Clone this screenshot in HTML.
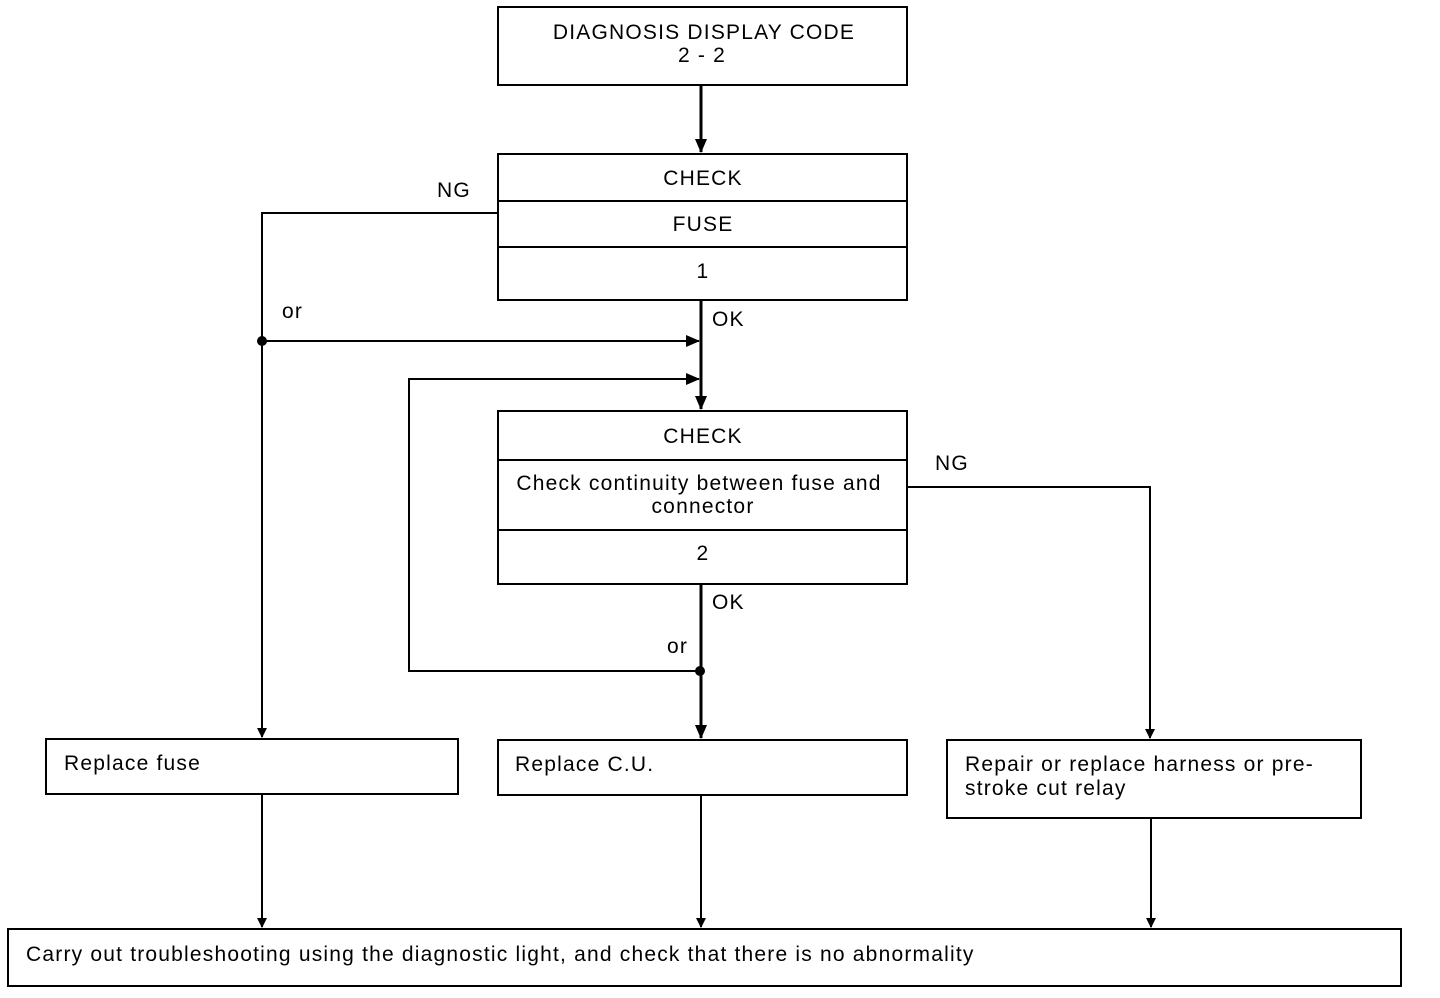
<!DOCTYPE html>
<html><head><style>body{margin:0;background:#fff}svg{display:block}</style></head><body>
<svg width="1440" height="998" xmlns="http://www.w3.org/2000/svg" font-family="Liberation Sans, Arial, sans-serif" font-size="21" letter-spacing="1.2" fill="#000">
<defs><marker id="a" markerWidth="10" markerHeight="10" refX="9" refY="5" orient="auto" markerUnits="userSpaceOnUse"><path d="M0,0 L10,5 L0,10 z"/></marker>
<marker id="b" markerWidth="14" markerHeight="14" refX="13" refY="7" orient="auto" markerUnits="userSpaceOnUse"><path d="M0,1 L14,7 L0,13 z"/></marker></defs>
<g fill="none" stroke="#000" stroke-width="2">
<rect x="498" y="7" width="409" height="78"/>
<rect x="498" y="154" width="409" height="146"/>
<line x1="498" y1="201" x2="907" y2="201"/><line x1="498" y1="247" x2="907" y2="247"/>
<rect x="498" y="411" width="409" height="173"/>
<line x1="498" y1="460" x2="907" y2="460"/><line x1="498" y1="530" x2="907" y2="530"/>
<rect x="46" y="739" width="412" height="55"/>
<rect x="498" y="740" width="409" height="55"/>
<rect x="947" y="740" width="414" height="78"/>
<rect x="8" y="929" width="1393" height="57"/>
<line x1="701" y1="85" x2="701" y2="152" stroke-width="3" marker-end="url(#b)"/>
<line x1="701" y1="300" x2="701" y2="409" stroke-width="3" marker-end="url(#b)"/>
<polyline points="498,213 262,213 262,737" marker-end="url(#a)"/>
<line x1="262" y1="341" x2="699" y2="341" marker-end="url(#b)"/>
<polyline points="699,671 409,671 409,379 699,379" marker-end="url(#b)"/>
<line x1="701" y1="584" x2="701" y2="738" stroke-width="3" marker-end="url(#b)"/>
<polyline points="907,487 1150,487 1150,738" marker-end="url(#a)"/>
<line x1="262" y1="794" x2="262" y2="927" marker-end="url(#a)"/>
<line x1="701" y1="795" x2="701" y2="927" marker-end="url(#a)"/>
<line x1="1151" y1="818" x2="1151" y2="927" marker-end="url(#a)"/>
</g>
<circle cx="262" cy="341" r="5"/><circle cx="700" cy="671" r="5"/>
<g text-anchor="middle">
<text x="704" y="39">DIAGNOSIS DISPLAY CODE</text>
<text x="702" y="62">2 - 2</text>
<text x="703" y="185">CHECK</text>
<text x="703" y="231">FUSE</text>
<text x="703" y="278">1</text>
<text x="703" y="443">CHECK</text>
<text x="699" y="490">Check continuity between fuse and</text>
<text x="703" y="513">connector</text>
<text x="703" y="560">2</text>
</g>
<text x="437" y="197">NG</text>
<text x="282" y="318">or</text>
<text x="712" y="326">OK</text>
<text x="935" y="470">NG</text>
<text x="712" y="609">OK</text>
<text x="667" y="653">or</text>
<text x="64" y="770">Replace fuse</text>
<text x="515" y="771">Replace C.U.</text>
<text x="965" y="771">Repair or replace harness or pre-</text>
<text x="965" y="795">stroke cut relay</text>
<text x="26" y="961">Carry out troubleshooting using the diagnostic light, and check that there is no abnormality</text>
</svg>
</body></html>
